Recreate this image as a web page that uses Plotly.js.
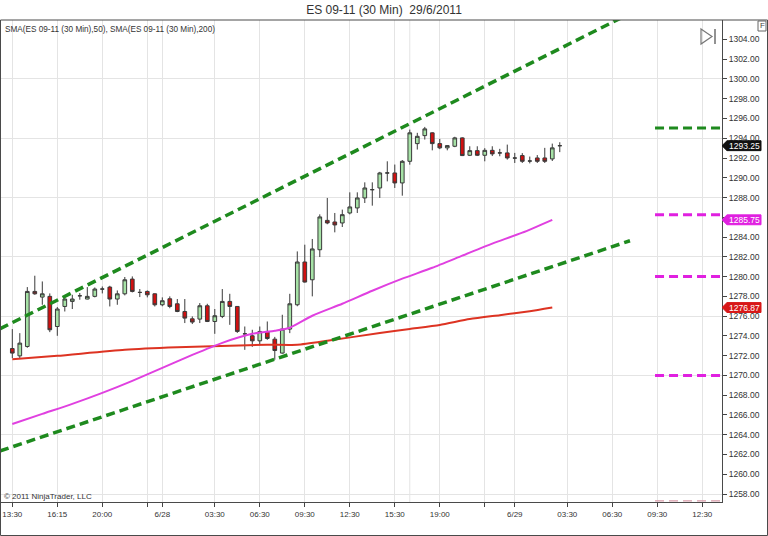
<!DOCTYPE html>
<html>
<head>
<meta charset="utf-8">
<script src="https://cdn.plot.ly/plotly-3.0.1.min.js"></script>
<style>
  html, body { margin: 0; padding: 0; background: #fff; }
  #chart { width: 768px; height: 536px; }
</style>
</head>
<body>
<div id="chart"></div>
<script>
// ---- Data ----
const candleOpen = [
  1272.72, 1271.98, 1272.93, 1278.50, 1277.93, 1278.00, 1274.95, 1276.98, 1277.49, 1278.06,
  1277.73, 1278.00, 1278.74, 1278.94, 1277.73, 1278.26, 1279.75, 1278.40, 1278.50, 1278.26,
  1277.15, 1277.76, 1277.25, 1276.47, 1275.73, 1275.70, 1277.05, 1275.46, 1275.97, 1277.49,
  1276.98, 1274.21, 1274.01, 1273.50, 1274.45, 1273.67, 1272.26, 1274.69, 1277.15, 1281.48,
  1279.68, 1282.72, 1285.69, 1285.53, 1285.43, 1286.44, 1286.95, 1287.96, 1288.80, 1288.97,
  1290.49, 1290.49, 1289.48, 1291.67, 1293.46, 1294.27, 1294.55, 1293.46, 1293.03, 1293.19,
  1294.04, 1292.28, 1292.75, 1292.28, 1292.78, 1292.52, 1292.52, 1292.00, 1292.25, 1291.70,
  1292.01, 1292.01, 1291.91, 1293.25
];
const candleHigh = [
  1274.69, 1274.28, 1278.94, 1280.09, 1279.51, 1278.30, 1276.92, 1278.00, 1278.16, 1278.34,
  1278.94, 1278.90, 1279.00, 1279.07, 1278.60, 1279.96, 1280.02, 1278.74, 1278.60, 1278.30,
  1277.90, 1278.00, 1277.73, 1277.73, 1275.97, 1277.32, 1277.25, 1276.72, 1278.74, 1278.26,
  1277.00, 1274.95, 1274.62, 1274.95, 1275.46, 1273.90, 1276.14, 1278.26, 1282.55, 1283.23,
  1283.81, 1286.30, 1287.96, 1286.44, 1286.78, 1288.53, 1288.53, 1289.54, 1289.54, 1290.60,
  1291.67, 1291.34, 1291.80, 1294.88, 1294.55, 1295.15, 1294.60, 1293.94, 1293.30, 1294.15,
  1294.10, 1293.19, 1293.19, 1293.00, 1293.19, 1292.93, 1293.36, 1292.52, 1292.50, 1292.15,
  1292.30, 1293.03, 1293.46, 1293.60
];
const candleLow = [
  1271.75, 1271.65, 1272.80, 1278.16, 1277.15, 1274.38, 1274.01, 1276.47, 1276.72, 1277.66,
  1277.70, 1277.90, 1278.30, 1276.98, 1277.15, 1278.10, 1278.40, 1277.93, 1277.90, 1276.98,
  1277.00, 1276.80, 1276.40, 1275.30, 1275.20, 1275.30, 1275.40, 1274.21, 1275.80, 1275.12,
  1274.30, 1272.59, 1272.90, 1273.10, 1273.60, 1271.58, 1272.20, 1274.28, 1277.00, 1279.40,
  1278.00, 1281.98, 1285.30, 1284.48, 1285.02, 1286.30, 1286.44, 1287.45, 1287.18, 1287.96,
  1289.64, 1288.97, 1288.19, 1291.33, 1292.86, 1293.87, 1292.78, 1292.90, 1292.78, 1293.10,
  1292.20, 1292.20, 1292.20, 1291.67, 1292.20, 1292.18, 1291.84, 1291.50, 1291.50, 1291.46,
  1291.50, 1291.50, 1291.70, 1292.60
];
const candleClose = [
  1272.26, 1273.27, 1278.50, 1278.26, 1278.26, 1274.62, 1276.72, 1277.73, 1277.73, 1278.06,
  1278.00, 1278.74, 1278.74, 1277.73, 1278.26, 1279.68, 1278.50, 1278.40, 1278.16, 1277.15,
  1277.56, 1276.98, 1276.47, 1275.80, 1275.40, 1277.05, 1275.46, 1276.04, 1277.49, 1276.98,
  1274.45, 1274.21, 1273.50, 1274.45, 1273.74, 1272.52, 1274.69, 1277.25, 1281.48, 1279.45,
  1282.80, 1286.04, 1285.43, 1285.23, 1286.27, 1287.05, 1287.96, 1288.97, 1288.80, 1290.49,
  1290.49, 1289.48, 1291.67, 1294.55, 1294.20, 1294.95, 1293.46, 1293.03, 1293.26, 1294.04,
  1292.25, 1292.75, 1292.28, 1292.78, 1292.42, 1292.52, 1292.01, 1292.00, 1291.67, 1291.70,
  1291.67, 1291.67, 1293.03, 1293.25
];

// SMA(50) and SMA(200), sampled at bar positions
const sma50Bars   = [0, 4, 8, 12, 16, 20, 24, 28, 32, 35, 37, 40, 44, 48, 52, 56, 60, 64, 68, 72];
const sma50Vals   = [1265.09, 1266.11, 1267.12, 1268.23, 1269.45, 1270.77, 1272.08, 1273.30, 1274.21, 1274.52,
                     1274.82, 1276.04, 1277.25, 1278.57, 1279.79, 1280.90, 1282.12, 1283.34, 1284.45, 1285.75];
const sma200Bars  = [0, 6, 15, 22, 29, 34, 38, 42, 49, 53, 57, 61, 65, 69, 72];
const sma200Vals  = [1271.63, 1271.98, 1272.59, 1272.84, 1273.00, 1273.10, 1273.10, 1273.50, 1274.30, 1274.70,
                     1275.10, 1275.70, 1276.10, 1276.50, 1276.87];

// Drawn trend channel (end points: bar position, price)
const upperTrendBars = [-1.64, 81.5];
const upperTrendVals = [1274.72, 1306.30];
const lowerTrendBars = [-1.64, 82.36];
const lowerTrendVals = [1262.36, 1283.63];

// Horizontal levels at the right side
const levelValues = [1295.05, 1286.25, 1280.00, 1270.00, 1257.30];
const levelColors = ['#1e8a1e', '#e020e0', '#e020e0', '#e020e0', '#d89aa8'];
const levelWidths = [3, 3, 3, 3, 1.2];
const levelStartBar = 85.7;
const levelEndBar = 95;

// X axis ticks (bar positions) and labels
const tickBars   = [0, 6, 12, 18, 20, 27, 33, 39, 45, 51, 57, 63, 67, 74, 80, 86, 92];
const tickLabels = ['13:30', '16:15', '20:00', '', '6/28', '03:30', '06:30', '09:30', '12:30', '15:30',
                    '19:00', '', '6/29', '03:30', '06:30', '09:30', '12:30'];
const sessionBreakBar = 53;

// Y axis ticks (price) and labels; 1286.00 is hidden under the SMA(50) marker
const yTickVals = [1258, 1260, 1262, 1264, 1266, 1268, 1270, 1272, 1274, 1276, 1278, 1280,
                   1282, 1284, 1286, 1288, 1290, 1292, 1294, 1296, 1298, 1300, 1302, 1304];
const yTickText = ['1258.00', '1260.00', '1262.00', '1264.00', '1266.00', '1268.00', '1270.00', '1272.00',
                   '1274.00', '1276.00', '1278.00', '1280.00', '1282.00', '1284.00', '', '1288.00',
                   '1290.00', '1292.00', '1294.00', '1296.00', '1298.00', '1300.00', '1302.00', '1304.00'];

const titleText = 'ES 09-11 (30 Min)  29/6/2011';
const legendText = 'SMA(ES 09-11 (30 Min),50), SMA(ES 09-11 (30 Min),200)';
const copyrightText = '\u00a9 2011 NinjaTrader, LLC';

// ---- Build ----
const barIdx = candleOpen.map((_, i) => i);
const FONT = 'Liberation Sans, Arial, sans-serif';
const W = 768, H = 536;
const M = {l: 1, r: 46, t: 20, b: 34};
const PW = W - M.l - M.r, PH = H - M.t - M.b;
const px = p => (p - M.l) / PW;           // pixel -> paper x
const py = p => (H - M.b - p) / PH;        // pixel -> paper y

const traces = [];
traces.push({
  type: 'candlestick', x: barIdx,
  open: candleOpen, high: candleHigh, low: candleLow, close: candleClose,
  increasing: {line: {color: '#3a3a3a', width: 1}, fillcolor: '#a6e2a6'},
  decreasing: {line: {color: '#3a3a3a', width: 1}, fillcolor: '#d01010'},
  whiskerwidth: 0, hoverinfo: 'skip', showlegend: false
});
traces.push({type: 'scatter', mode: 'lines', x: sma200Bars, y: sma200Vals,
  line: {color: '#dd3322', width: 2, shape: 'spline', smoothing: 0.6}, hoverinfo: 'skip', showlegend: false});
traces.push({type: 'scatter', mode: 'lines', x: sma50Bars, y: sma50Vals,
  line: {color: '#e040e0', width: 2, shape: 'spline', smoothing: 0.6}, hoverinfo: 'skip', showlegend: false});
traces.push({type: 'scatter', mode: 'lines', x: upperTrendBars, y: upperTrendVals,
  line: {color: '#1e8a1e', width: 3.5, dash: '9px,5px'}, hoverinfo: 'skip', showlegend: false});
traces.push({type: 'scatter', mode: 'lines', x: lowerTrendBars, y: lowerTrendVals,
  line: {color: '#1e8a1e', width: 3.5, dash: '9px,5px'}, hoverinfo: 'skip', showlegend: false});
levelValues.forEach((v, k) => {
  traces.push({type: 'scatter', mode: 'lines', x: [levelStartBar, levelEndBar], y: [v, v], yaxis: 'y2',
    line: {color: levelColors[k], width: levelWidths[k], dash: '9px,5px'}, hoverinfo: 'skip', showlegend: false});
});

const yRange = [1257.19, 1305.97];
const xRange = [-1.507, 94.63];

// last-value markers
const markers = [
  {v: candleClose[candleClose.length - 1], bg: '#111111'},
  {v: sma50Vals[sma50Vals.length - 1], bg: '#e020e0'},
  {v: sma200Vals[sma200Vals.length - 1], bg: '#d81818'}
];

const shapes = [
  // extra vertical grid line (session break)
  {type: 'line', xref: 'x', yref: 'paper', x0: sessionBreakBar, x1: sessionBreakBar, y0: 0, y1: 1,
   line: {color: '#e4e4e4', width: 1}, layer: 'below'},
  // outer frame
  {type: 'rect', xref: 'paper', yref: 'paper', x0: px(0.5), x1: px(767.5), y0: py(535.5), y1: py(20),
   line: {color: '#4a4a4a', width: 1}, fillcolor: 'rgba(0,0,0,0)'},
  // F box
  {type: 'rect', xref: 'paper', yref: 'paper', x0: px(758), x1: px(766), y0: py(31), y1: py(21),
   line: {color: '#666', width: 1}, fillcolor: '#fff'},
  // play-to-end icon
  {type: 'path', xref: 'paper', yref: 'paper',
   path: `M ${px(701)},${py(29)} L ${px(712)},${py(36.5)} L ${px(701)},${py(44)} Z`,
   line: {color: '#777', width: 1.2}, fillcolor: 'rgba(0,0,0,0)'},
  {type: 'line', xref: 'paper', yref: 'paper', x0: px(715), x1: px(715), y0: py(29), y1: py(44),
   line: {color: '#777', width: 1.6}}
];
const annotations = [
  {xref: 'paper', yref: 'paper', x: px(3), y: py(29), xanchor: 'left', yanchor: 'middle', showarrow: false,
   text: legendText, font: {family: FONT, size: 8.2, color: '#333'}},
  {xref: 'paper', yref: 'paper', x: px(2), y: py(496), xanchor: 'left', yanchor: 'middle', showarrow: false,
   text: copyrightText, font: {family: FONT, size: 8, color: '#333'}},
  {xref: 'paper', yref: 'paper', x: px(762), y: py(26), xanchor: 'center', yanchor: 'middle', showarrow: false,
   text: 'F', font: {family: FONT, size: 8, color: '#444'}}
];
markers.forEach(m => {
  const h = 0.5;
  shapes.push({type: 'path', xref: 'paper', yref: 'y',
    path: `M ${px(722)},${m.v} L ${px(727)},${m.v + h} L ${px(761)},${m.v + h} L ${px(761)},${m.v - h} L ${px(727)},${m.v - h} Z`,
    line: {color: m.bg, width: 1}, fillcolor: m.bg});
  annotations.push({xref: 'paper', yref: 'y', x: px(744), y: m.v, xanchor: 'center', yanchor: 'middle',
    showarrow: false, text: m.v.toFixed(2), font: {family: FONT, size: 8.5, color: '#fff'}});
});

const layout = {
  width: W, height: H,
  margin: M,
  paper_bgcolor: '#fff', plot_bgcolor: '#fff',
  showlegend: false,
  title: {text: titleText, x: 0.5, xref: 'container', xanchor: 'center',
          y: 1 - 10 / H, yref: 'container', yanchor: 'middle',
          font: {family: FONT, size: 12, color: '#333'}},
  xaxis: {range: xRange, rangeslider: {visible: false}, tickmode: 'array', tickvals: tickBars, ticktext: tickLabels,
          showgrid: true, gridcolor: '#e4e4e4', gridwidth: 1, zeroline: false,
          ticks: 'outside', ticklen: 4, tickcolor: '#444', showline: true, linecolor: '#4a4a4a', linewidth: 1,
          tickfont: {family: FONT, size: 8, color: '#333'}, fixedrange: true},
  yaxis: {range: yRange, side: 'right', tickmode: 'array', tickvals: yTickVals, ticktext: yTickText,
          showgrid: false, zeroline: false, ticks: 'outside', ticklen: 4, tickcolor: '#444',
          showline: true, linecolor: '#4a4a4a', linewidth: 1,
          tickfont: {family: FONT, size: 8.5, color: '#333'}, fixedrange: true},
  yaxis2: {range: yRange, overlaying: 'y', side: 'left', tick0: 1258, dtick: 6,
           showgrid: true, gridcolor: '#e4e4e4', gridwidth: 1, showticklabels: false, ticks: '',
           zeroline: false, showline: false, fixedrange: true},
  shapes: shapes,
  annotations: annotations
};

Plotly.newPlot('chart', traces, layout, {staticPlot: true, displayModeBar: false});
</script>
</body>
</html>
